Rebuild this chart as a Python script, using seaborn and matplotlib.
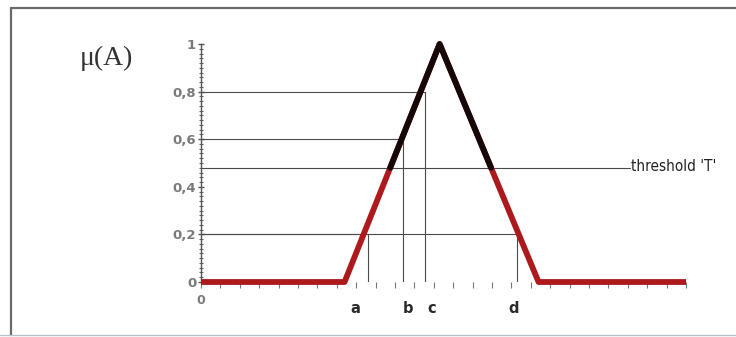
import numpy as np
import pandas as pd
import matplotlib
matplotlib.use("Agg")
import matplotlib.pyplot as plt
import seaborn as sns

# Triangular membership function mu(A)
x_points = [0.0, 7.4, 12.3, 17.4, 25.0]
mu_points = [0.0, 0.0, 1.0, 0.0, 0.0]
threshold = 0.48

# Alpha-cut guide lines: label, x position, membership level
cut_labels = ["a", "b", "c", "d"]
cut_x = [8.6, 10.4, 11.55, 16.3]
cut_mu = [0.2, 0.6, 0.8, 0.2]
threshold_end = 22.1

y_ticks = [0.0, 0.2, 0.4, 0.6, 0.8, 1.0]
y_tick_labels = ["0", "0,2", "0,4", "0,6", "0,8", "1"]

sns.set_theme(style="white")
plt.rcParams["font.family"] = ["DejaVu Sans"]

fig = plt.figure(figsize=(7.36, 3.37), dpi=100)
ax = fig.add_axes([201 / 736, 1 - 282 / 337, 485 / 736, 238 / 337])
ax.set_xlim(0, 25)
ax.set_ylim(0, 1)

guide = dict(color="#4a4a4a", lw=0.8, zorder=1)

# horizontal cut lines and their vertical drops to the x axis
for xv, mv in zip(cut_x, cut_mu):
    ax.plot([0, xv], [mv, mv], **guide)
    ax.plot([xv, xv], [0, mv], **guide)
ax.plot([0, threshold_end], [threshold, threshold], **guide)
ax.text(threshold_end + 0.05, threshold + 0.005, "threshold 'T'", va="center", ha="left",
        fontsize=11, color="#222222", family=["Liberation Sans Narrow", "DejaVu Sans"],
        stretch="condensed")

# full membership curve in red
df = pd.DataFrame({"x": x_points, "mu": mu_points})
sns.lineplot(data=df, x="x", y="mu", ax=ax, color="#ad1a1e", lw=4.2,
             solid_capstyle="butt", zorder=3, clip_on=False)

# part of the curve above the threshold in black
left_x = np.interp(threshold, mu_points[1:3], x_points[1:3])
right_x = np.interp(threshold, mu_points[2:4][::-1], x_points[2:4][::-1])
top = pd.DataFrame({"x": [left_x, x_points[2], right_x],
                    "mu": [threshold, 1.0, threshold]})
sns.lineplot(data=top, x="x", y="mu", ax=ax, color="#150808", lw=4.2,
             zorder=4, clip_on=False)

# axes styling
for s in ["top", "right", "bottom"]:
    ax.spines[s].set_visible(False)
ax.spines["left"].set_color("#555555")
ax.spines["left"].set_linewidth(1.0)
ax.set_xlabel("")
ax.set_ylabel("")

ax.set_yticks(y_ticks)
ax.set_yticklabels(y_tick_labels)
ax.set_yticks(np.arange(0, 1.001, 0.02), minor=True)
ax.tick_params(axis="y", which="major", direction="inout", length=5, width=1,
               color="#555555", labelsize=9.5, labelcolor="#7a7a7a", pad=1, left=True)
ax.tick_params(axis="y", which="minor", direction="inout", length=3, width=0.8,
               color="#666666", left=True)
for lbl in ax.get_yticklabels():
    lbl.set_fontweight("bold")

ax.set_xticks([0])
ax.set_xticklabels(["0"])
ax.set_xticks(np.arange(0, 25.01, 1), minor=True)
ax.tick_params(axis="x", which="both", direction="out", length=4, width=0.8,
               color="#777777", labelsize=9, labelcolor="#7a7a7a", pad=5, bottom=True)
for lbl in ax.get_xticklabels():
    lbl.set_fontweight("bold")

# letters under the axis, nudged off their guide lines
label_shift = [-0.65, 0.25, 0.35, -0.2]
for lab, xv, dx in zip(cut_labels, cut_x, label_shift):
    ax.text(xv + dx, -0.11, lab, ha="center", va="center",
            fontsize=10.5, fontweight="bold", color="#2a2a2a")

fig.text(106 / 736, 1 - 58 / 337, "\u03bc(A)", ha="center", va="center",
         fontsize=20, family=["Liberation Serif", "DejaVu Serif"], color="#333333")

# picture frame
fig.add_artist(plt.Line2D([11 / 736, 11 / 736], [0.005, 1 - 8 / 337],
                          transform=fig.transFigure, color="#6a6a6a", lw=1.6))
fig.add_artist(plt.Line2D([11 / 736, 1.0], [1 - 8 / 337, 1 - 8 / 337],
                          transform=fig.transFigure, color="#6a6a6a", lw=1.6))
fig.add_artist(plt.Line2D([0, 1.0], [1 - 335 / 337, 1 - 335 / 337],
                          transform=fig.transFigure, color="#b8c4cc", lw=1.0))

fig.savefig("out.png", dpi=100, facecolor="white")
